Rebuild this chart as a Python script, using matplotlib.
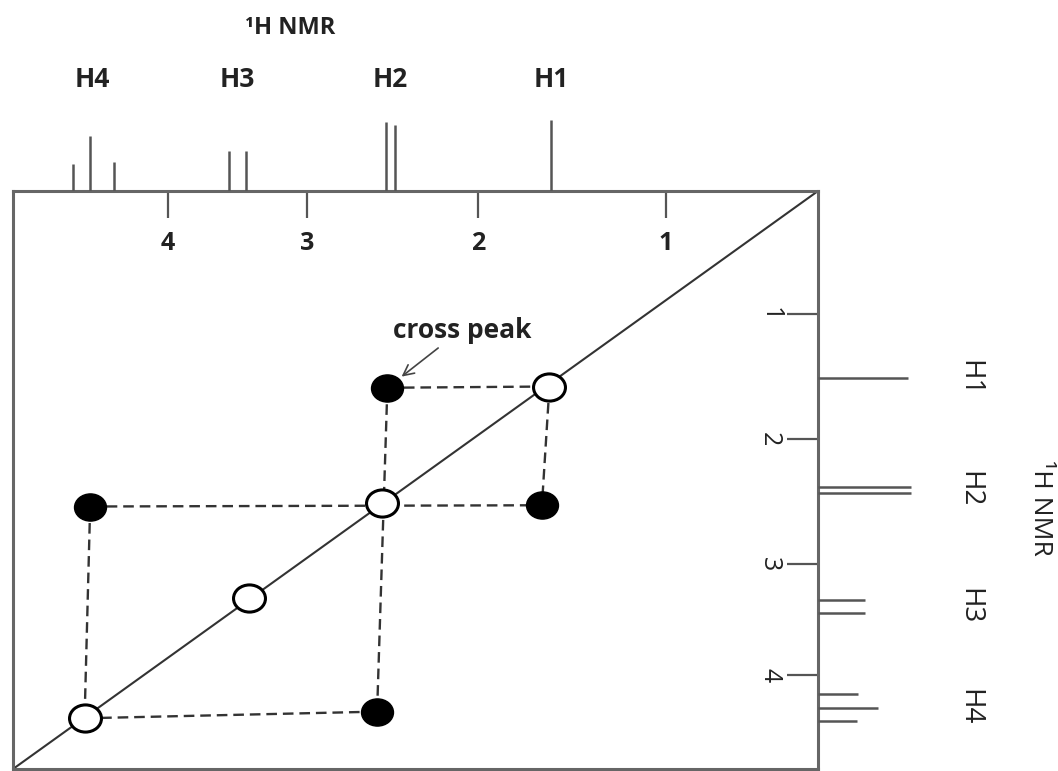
import numpy as np
import matplotlib.pyplot as plt
from matplotlib.path import Path
from matplotlib.transforms import blended_transform_factory as blend

plt.rcParams['font.family'] = ['Open Sans', 'DejaVu Sans']

# chemical shift scale (ppm)
shift_ticks = [4, 3, 2, 1]

# 1D spectrum along the top (f2): line shifts and relative heights
top_ppm = [4.68, 4.56, 4.39, 3.56, 3.44, 2.54, 2.485, 1.61]
top_int = [0.38, 0.77, 0.41, 0.56, 0.56, 0.97, 0.93, 1.0]
top_group = [0, 0, 0, 1, 1, 2, 2, 3]
top_names = ['H4', 'H3', 'H2', 'H1']

# 1D spectrum down the side (f1)
side_ppm = [1.51, 2.38, 2.43, 3.32, 3.44, 4.17, 4.30, 4.41]
side_int = [0.97, 1.0, 1.0, 0.51, 0.51, 0.43, 0.65, 0.42]
side_group = [0, 1, 1, 2, 2, 3, 3, 3]
side_names = ['H1', 'H2', 'H3', 'H4']

# 2D peaks as (f2, f1)
diag_f2 = [1.62, 2.56, 3.42, 4.60]
diag_f1 = [1.58, 2.51, 3.31, 4.39]
cross_f2 = [2.53, 1.66, 4.56, 2.59]
cross_f1 = [1.59, 2.53, 2.54, 4.33]
# dashed connectors, indices into diag + cross
links = [(4, 0), (0, 5), (6, 5), (4, 7), (6, 3), (3, 7)]


def warp(ppm_pts, u_pts):
    # piecewise-linear axis scale through hand-drawn tick spacing
    p = np.asarray(ppm_pts, float)
    u = np.asarray(u_pts, float)
    s0 = (u[1] - u[0]) / (p[1] - p[0])
    s1 = (u[-1] - u[-2]) / (p[-1] - p[-2])
    P = np.r_[p[0] - 100, p, p[-1] + 100]
    U = np.r_[u[0] - 100 * s0, u, u[-1] + 100 * s1]
    return (lambda v: np.interp(v, P, U)), (lambda v: np.interp(v, U, P))


W, H = 1058, 771
fig = plt.figure(figsize=(W / 100, H / 100), dpi=100)
ax = fig.add_axes([13 / W, 2 / H, 805 / W, 578 / H])
ax.set_xscale('function', functions=warp([0.19, 1, 2, 3, 4, 5.115], [0, 152, 340, 511, 650, 805]))
ax.set_yscale('function', functions=warp([0.016, 1, 2, 3, 4, 4.847], [0, 123, 248, 373, 484, 578]))
ax.set_xlim(5.115, 0.19)
ax.set_ylim(4.847, 0.016)

for s in ax.spines.values():
    s.set_color('#666666')
    s.set_linewidth(2.2)

ax.set_xticks(shift_ticks)
ax.set_yticks(shift_ticks)
ax.minorticks_off()
ax.xaxis.set_ticks_position('top')
ax.yaxis.set_ticks_position('right')
ax.tick_params(axis='x', direction='in', length=19.5, width=1.6, color='#555555',
               labeltop=False, labelbottom=False)
ax.tick_params(axis='y', direction='in', length=22, width=1.6, color='#555555',
               labelright=False, labelleft=False)
for v in shift_ticks:
    ax.text(v, 0.91, str(v), transform=blend(ax.transData, ax.transAxes),
            ha='center', va='center', fontsize=18, fontweight='bold', color='#222222')
    ax.text(0.94, v, str(v), transform=blend(ax.transAxes, ax.transData),
            ha='center', va='center', fontsize=18, rotation=270, color='#222222')

# diagonal
ax.plot([0, 1], [0, 1], transform=ax.transAxes, color='#333333', lw=1.5, zorder=1)

all_f2 = diag_f2 + cross_f2
all_f1 = diag_f1 + cross_f1
for a, b in links:
    ax.plot([all_f2[a], all_f2[b]], [all_f1[a], all_f1[b]], ls=(0, (4.5, 2.5)),
            color='#333333', lw=1.7, zorder=2)

circ = Path.unit_circle()
ell = Path(circ.vertices * [1, 0.85], circ.codes)
ax.plot(diag_f2, diag_f1, ls='none', marker=ell, ms=23, mfc='white', mec='black',
        mew=2.2, zorder=3)
ax.plot(cross_f2, cross_f1, ls='none', marker=ell, ms=23, mfc='black', mec='black',
        mew=1, zorder=3)

ax.annotate('cross peak', xy=(cross_f2[0], cross_f1[0]), xytext=(2.094, 1.128),
            ha='center', va='center', fontsize=19, fontweight='bold', color='#222222',
            arrowprops=dict(arrowstyle='->', color='#444444', lw=1.2, shrinkB=13,
                            relpos=(0.37, 0.0)))

# top spectrum
ax_top = fig.add_axes([13 / W, 580 / H, 805 / W, 80 / H], sharex=ax)
ax_top.set_ylim(0, 80 / 71)
ax_top.vlines(top_ppm, 0, top_int, color='#555555', lw=1.8)
ax_top.axis('off')
for g, name in enumerate(top_names):
    x = np.mean([p for p, k in zip(top_ppm, top_group) if k == g])
    ax_top.text(x, 1.39, name, transform=blend(ax_top.transData, ax_top.transAxes),
                ha='center', va='center', fontsize=19, fontweight='bold', color='#222222')

# side spectrum
ax_side = fig.add_axes([818 / W, 2 / H, 100 / W, 578 / H], sharey=ax)
ax_side.set_xlim(0, 100 / 93)
ax_side.hlines(side_ppm, 0, side_int, color='#555555', lw=1.8)
ax_side.axis('off')
for g, name in enumerate(side_names):
    y = np.mean([p for p, k in zip(side_ppm, side_group) if k == g])
    ax_side.text(1.51, y, name, transform=blend(ax_side.transAxes, ax_side.transData),
                 ha='center', va='center', fontsize=20, rotation=270, color='#222222')

fig.text(290 / W, 1 - 28 / H, '¹H NMR', ha='center', va='center', fontsize=17,
         fontweight='bold', color='#222222')
fig.text(1040 / W, 1 - 508 / H, '¹H NMR', ha='center', va='center', fontsize=19,
         rotation=270, color='#222222')

fig.savefig('out.png', dpi=100, facecolor='white')
